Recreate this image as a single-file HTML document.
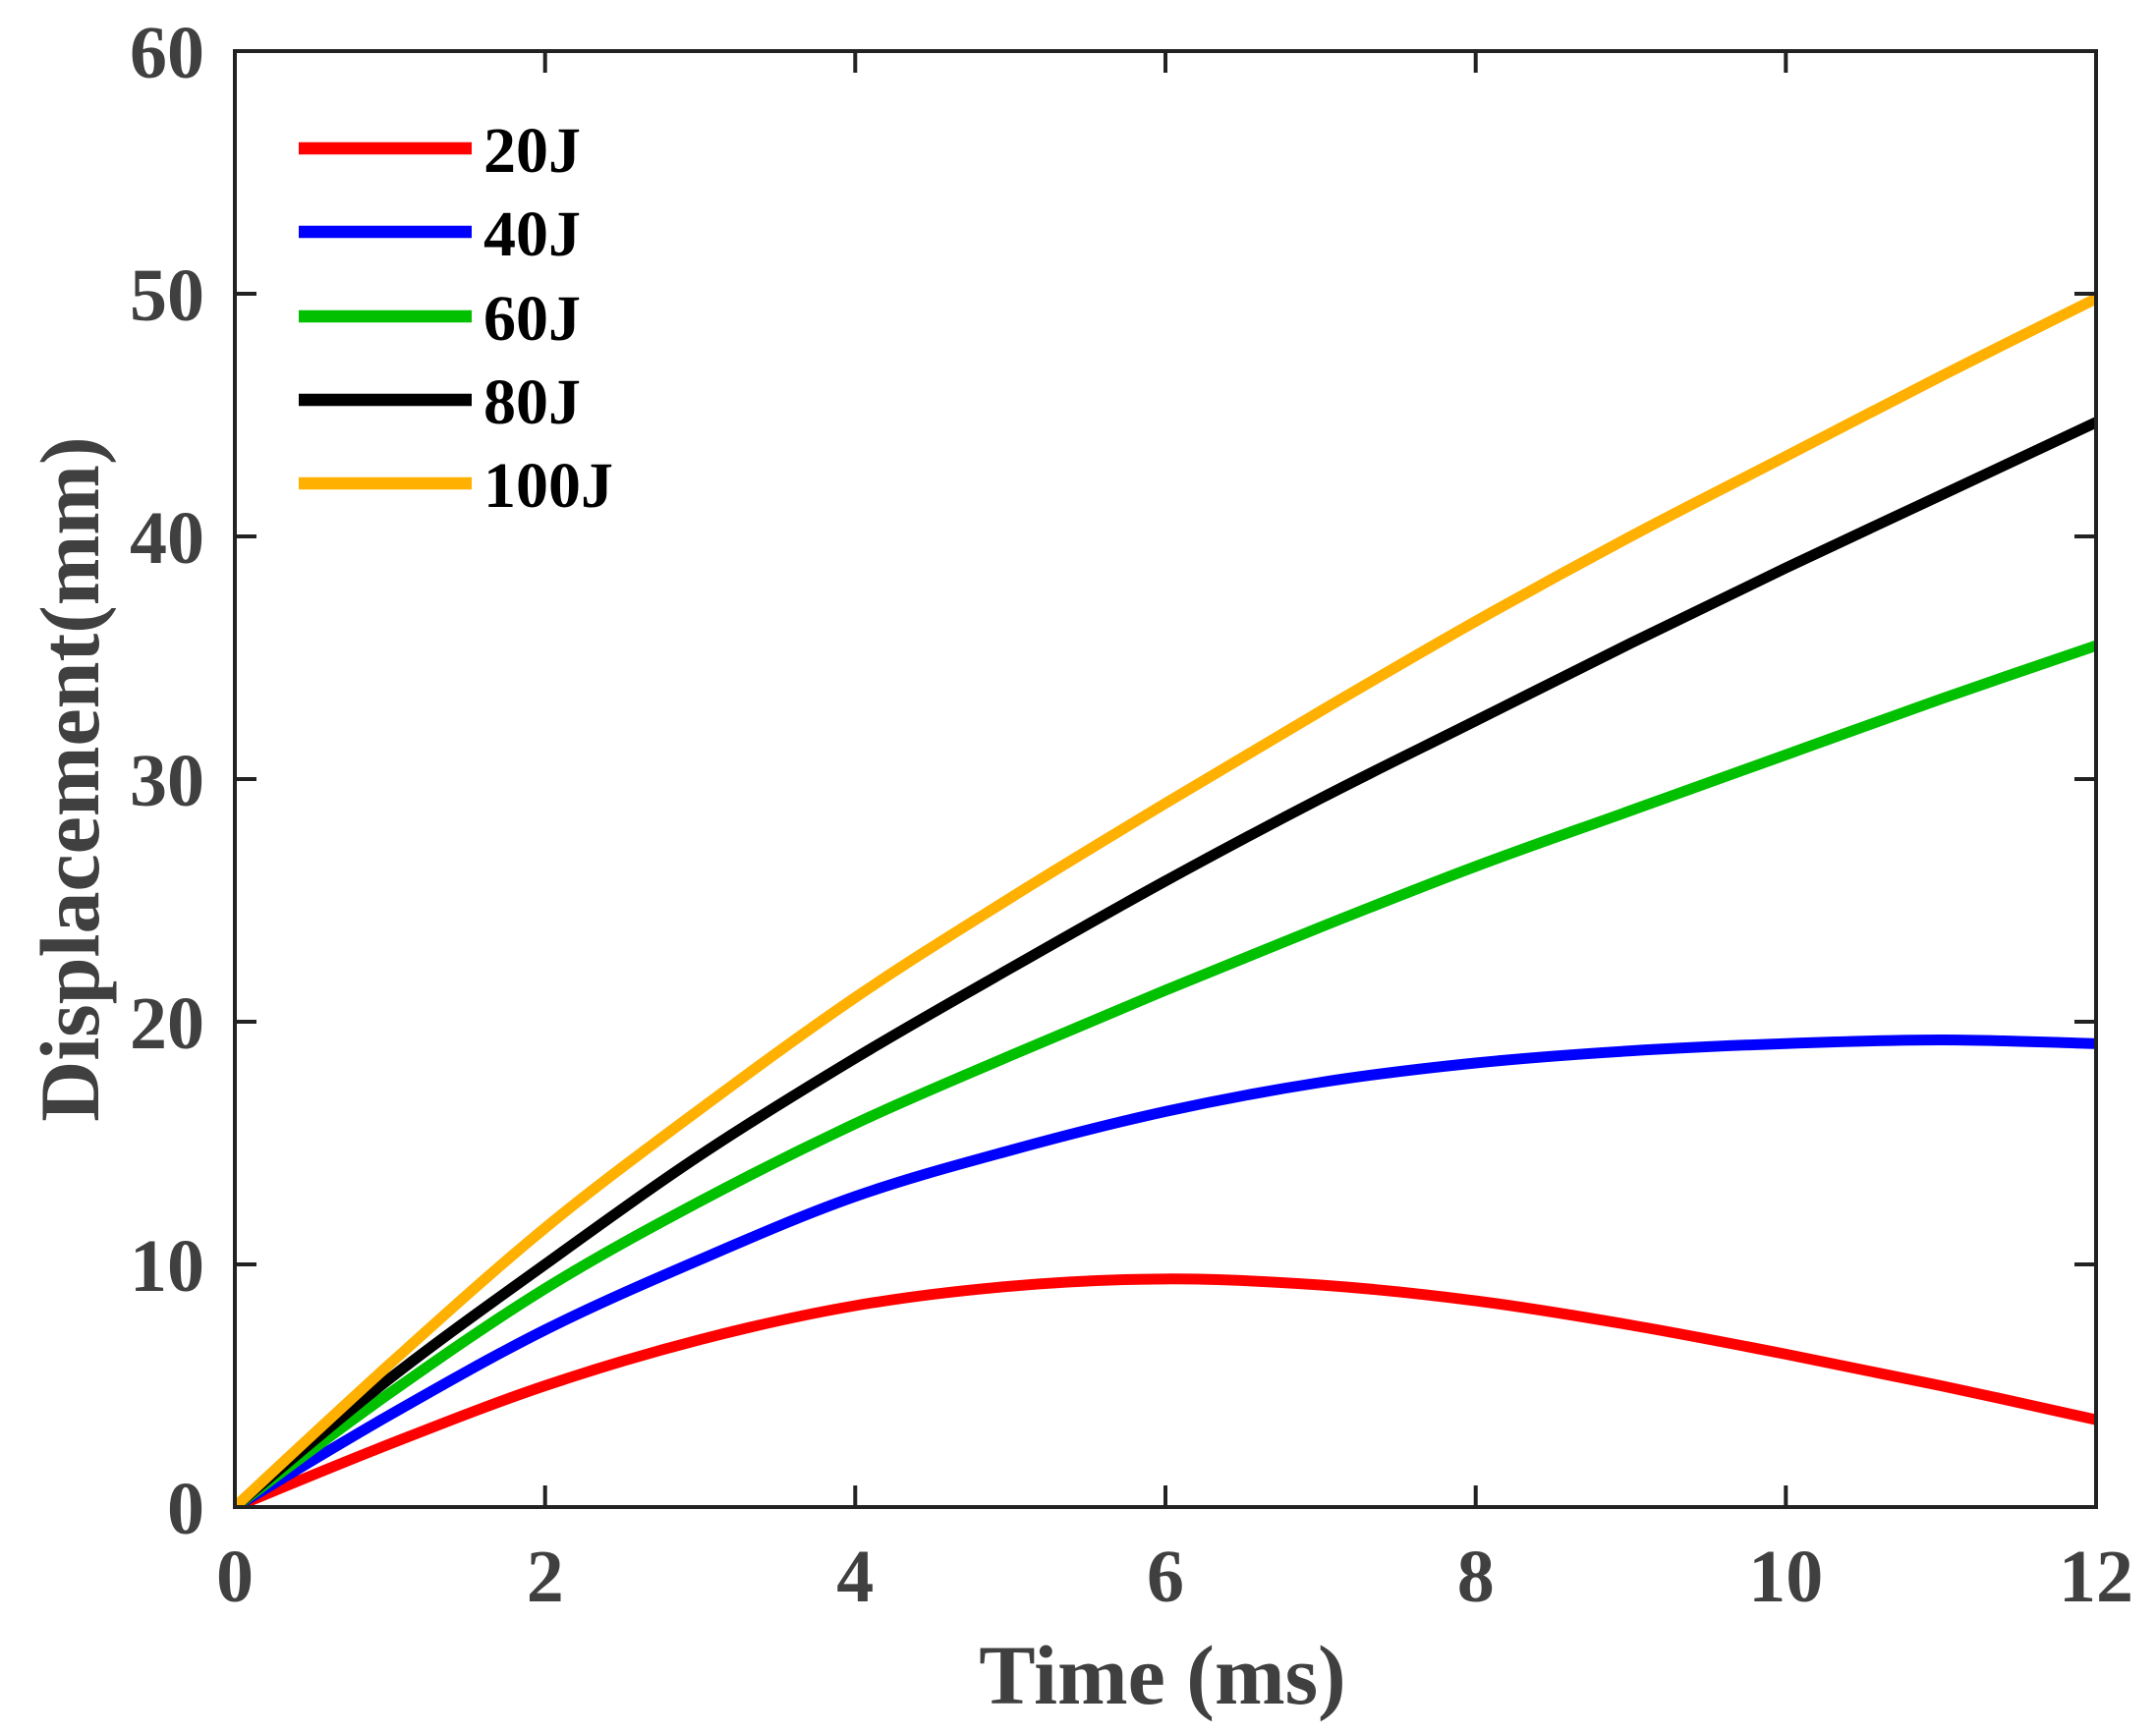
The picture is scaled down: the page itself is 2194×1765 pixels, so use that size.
<!DOCTYPE html>
<html><head><meta charset="utf-8"><style>html,body{margin:0;padding:0;background:#fff}svg{display:block}text{font-family:"Liberation Serif","Times New Roman",serif;font-weight:bold}</style></head>
<body>
<svg id="s" width="2194" height="1765" viewBox="0 0 2194 1765" xmlns="http://www.w3.org/2000/svg">
<defs><clipPath id="c"><rect x="239" y="52" width="1894" height="1482"/></clipPath></defs>
<g id="curves" clip-path="url(#c)" fill="none" stroke-width="11" stroke-linejoin="round" stroke-linecap="round"></g>
<rect x="239" y="52" width="1894" height="1482" fill="none" stroke="#222" stroke-width="4"/>
<g stroke="#222" stroke-width="4">
<path d="M554.7,1534v-22M870.3,1534v-22M1186,1534v-22M1501.7,1534v-22M1817.3,1534v-22M554.7,52v22M870.3,52v22M1186,52v22M1501.7,52v22M1817.3,52v22"/>
<path d="M239,1287h22M239,1040h22M239,793h22M239,546h22M239,299h22M2133,1287h-22M2133,1040h-22M2133,793h-22M2133,546h-22M2133,299h-22"/>
</g>
<g fill="#404040" font-size="76" text-anchor="middle">
<text x="239" y="1630">0</text><text x="554.7" y="1630">2</text><text x="870.3" y="1630">4</text><text x="1186" y="1630">6</text><text x="1501.7" y="1630">8</text><text x="1817.3" y="1630">10</text><text x="2133" y="1630">12</text>
</g>
<g fill="#404040" font-size="76" text-anchor="end">
<text x="208" y="1561">0</text><text x="208" y="1314">10</text><text x="208" y="1067">20</text><text x="208" y="820">30</text><text x="208" y="573">40</text><text x="208" y="326">50</text><text x="208" y="79">60</text>
</g>
<text x="1183" y="1734" fill="#404040" font-size="86" text-anchor="middle">Time (ms)</text>
<text transform="translate(100,793) rotate(-90)" fill="#404040" font-size="86" text-anchor="middle">Displacement(mm)</text>
<g stroke-width="12.5">
<line x1="304" y1="151" x2="480" y2="151" stroke="#ff0000"/>
<line x1="304" y1="236" x2="480" y2="236" stroke="#0000ff"/>
<line x1="304" y1="322" x2="480" y2="322" stroke="#00c000"/>
<line x1="304" y1="407" x2="480" y2="407" stroke="#000"/>
<line x1="304" y1="492" x2="480" y2="492" stroke="#ffb000"/>
</g>
<g fill="#000" font-size="66">
<text x="492" y="175">20J</text><text x="492" y="260">40J</text><text x="492" y="346">60J</text><text x="492" y="431">80J</text><text x="492" y="516">100J</text>
</g>
</svg>
<script>
var D=[["#ff0000",[0,2.6,5,6.9,8.3,9.1,9.4,9.15,8.5,7.5,6.3,5,3.6]],
["#0000ff",[0,3.8,7.3,10.2,12.8,14.7,16.3,17.5,18.3,18.8,19.1,19.25,19.1]],
["#00c000",[0,4.7,9,12.6,15.8,18.6,21.3,23.9,26.4,28.7,31,33.3,35.5]],
["#000000",[0,5.3,10,14.5,18.5,22.2,25.8,29.2,32.4,35.6,38.7,41.7,44.7]],
["#ffb000",[0,5.9,11.5,16.4,21,25.1,29,32.8,36.5,40,43.3,46.6,49.8]]];
var g=document.getElementById('curves');
function X(t){return 239+t*157.83}function Y(v){return 1534-v*24.7}
D.forEach(function(d){var v=d[1],n=v.length,p=[];
for(var i=0;i<n;i++)p.push([X(i),Y(v[i])]);
var s="M"+p[0][0]+","+p[0][1];
for(var i=0;i<n-1;i++){var p0=p[Math.max(0,i-1)],p1=p[i],p2=p[i+1],p3=p[Math.min(n-1,i+2)];
var c1=[p1[0]+(p2[0]-p0[0])/6,p1[1]+(p2[1]-p0[1])/6],c2=[p2[0]-(p3[0]-p1[0])/6,p2[1]-(p3[1]-p1[1])/6];
s+="C"+c1[0]+","+c1[1]+" "+c2[0]+","+c2[1]+" "+p2[0]+","+p2[1];}
var e=document.createElementNS("http://www.w3.org/2000/svg","path");e.setAttribute("d",s);e.setAttribute("stroke",d[0]);g.appendChild(e);});
</script>
</body></html>
